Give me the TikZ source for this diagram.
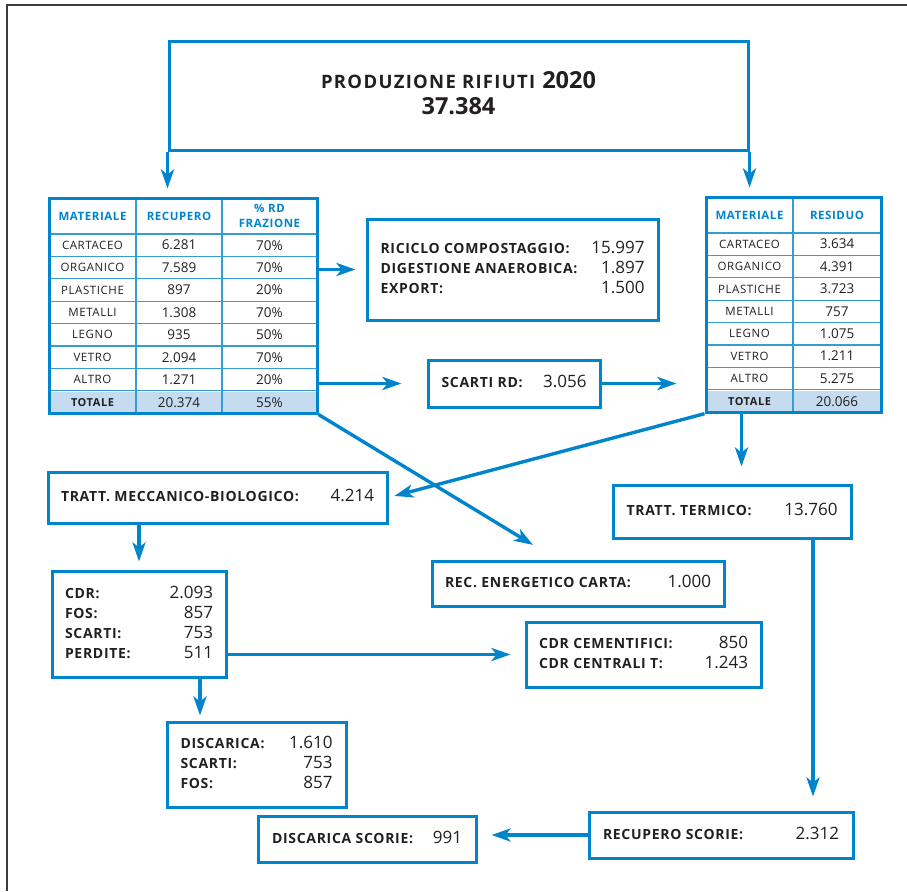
\documentclass[tikz,border=0pt]{standalone}
\usepackage{fontspec}
\setmainfont{Open Sans}
\newfontfamily\spaced[LetterSpace=5]{Open Sans}
\newfontfamily\wide[LetterSpace=7]{Open Sans}
\usetikzlibrary{arrows.meta,calc}
\definecolor{rfblue}{RGB}{0,133,204}
\definecolor{rflight}{RGB}{197,220,240}
\definecolor{rftext}{RGB}{35,31,32}
\definecolor{rfframe}{RGB}{60,60,60}
\newcommand{\lbl}[1]{{\spaced\bfseries #1}}
\newcommand{\val}[1]{{\fontsize{17}{20}\selectfont #1}}
\newcommand{\twocol}[2]{\begin{tabular*}{#1}{@{}l@{\extracolsep{\fill}}r@{}}#2\end{tabular*}}

\begin{document}
\begin{tikzpicture}[x=1pt,y=-1pt,text=rftext,
	box/.style={draw=rfblue,line width=3pt,inner sep=0pt,font=\fontsize{14}{20}\selectfont},
	conn/.style={rfblue,line width=3.4pt,-{Stealth[length=19pt,width=13pt,inset=5pt]}},
	grid/.style={rfblue!80,line width=1.1pt},
	hd/.style={text=rfblue,font=\spaced\bfseries\fontsize{11.5}{15}\selectfont,align=center},
	mat/.style={font=\spaced\fontsize{11.5}{12}\selectfont},
	cell/.style={font=\fontsize{13.5}{14}\selectfont}]
	\useasboundingbox (0,0) rectangle (907,891);
	\draw[rfframe,line width=1.4pt] (7,891) -- (7,5) -- (907,5);

	\node[box,minimum width=579pt,minimum height=108pt]	(prod)	at (458.5,96)
		{\begin{tabular}{c}{\wide\bfseries\fontsize{18.5}{26}\selectfont PRODUZIONE RIFIUTI}\hspace{7pt}{\fontsize{23.5}{26}\selectfont\bfseries 2020}\\[3pt]
		{\fontsize{23.5}{26}\selectfont\bfseries 37.384}\end{tabular}};

	\fill[rflight] (49,391.6) rectangle (317,413);
	\foreach \i in {0,...,7}
		\draw[grid] (49,{234+22.4*\i}) -- (317,{234+22.4*\i});
	\draw[grid] (136,198) -- (136,413) (222,198) -- (222,413);
	\node[box,minimum width=268pt,minimum height=215pt]	(tabL)	at (183,305.5) {};
	\node[hd]	(hL1)	at (92.5,216)	{MATERIALE};
	\node[hd]	(hL2)	at (179,216)	{RECUPERO};
	\node[hd]	(hL3)	at (269.5,216)	{\% RD\\FRAZIONE};
	\foreach \m/\r/\p [count=\i] in {CARTACEO/6.281/70,ORGANICO/7.589/70,PLASTICHE/897/20,
		METALLI/1.308/70,LEGNO/935/50,VETRO/2.094/70,ALTRO/1.271/20}{
		\node[mat]	(mL\i)	at (92.5,{222.8+22.4*\i})	{\m};
		\node[cell]	(rL\i)	at (179,{222.8+22.4*\i})	{\r};
		\node[cell]	(pL\i)	at (269.5,{222.8+22.4*\i})	{\p\%};
	}
	\node[mat,font=\spaced\bfseries\fontsize{11}{12}\selectfont]	(mL8)	at (92.5,402.3)	{TOTALE};
	\node[cell]	(rL8)	at (179,402.3)	{20.374};
	\node[cell]	(pL8)	at (269.5,402.3)	{55\%};

	\fill[rflight] (706,390.6) rectangle (881,412.2);
	\foreach \i in {0,...,7}
		\draw[grid] (706,{233+22.4*\i}) -- (881,{233+22.4*\i});
	\draw[grid] (793,197) -- (793,412.2);
	\node[box,minimum width=175pt,minimum height=215.2pt]	(tabR)	at (793.5,304.6) {};
	\node[hd]	(hR1)	at (749.5,215)	{MATERIALE};
	\node[hd]	(hR2)	at (837,215)	{RESIDUO};
	\foreach \m/\r [count=\i] in {CARTACEO/3.634,ORGANICO/4.391,PLASTICHE/3.723,
		METALLI/757,LEGNO/1.075,VETRO/1.211,ALTRO/5.275}{
		\node[mat]	(mR\i)	at (749.5,{221.8+22.4*\i})	{\m};
		\node[cell]	(rR\i)	at (837,{221.8+22.4*\i})	{\r};
	}
	\node[mat,font=\spaced\bfseries\fontsize{11}{12}\selectfont]	(mR8)	at (749.5,401.4)	{TOTALE};
	\node[cell]	(rR8)	at (837,401.4)	{20.066};

	\node[box,minimum width=291pt,minimum height=101pt]	(ric)	at (512.5,269.5)
		{\twocol{264pt}{\lbl{RICICLO COMPOSTAGGIO:} & \val{15.997}\\ \lbl{DIGESTIONE ANAEROBICA:} & \val{1.897}\\ \lbl{EXPORT:} & \val{1.500}}};
	\node[box,minimum width=172pt,minimum height=47pt]	(scrd)	at (514,383.5)
		{\twocol{145pt}{\lbl{SCARTI RD:} & \val{3.056}}};
	\node[box,minimum width=339pt,minimum height=51pt]	(tmb)	at (217.5,497.5)
		{\twocol{313pt}{\lbl{TRATT. MECCANICO-BIOLOGICO:} & \val{4.214}}};
	\node[box,minimum width=238pt,minimum height=53pt]	(tterm)	at (732,511.5)
		{\twocol{211pt}{\lbl{TRATT. TERMICO:} & \val{13.760}}};
	\node[box,minimum width=292pt,minimum height=45pt]	(recen)	at (578,583.5)
		{\twocol{266pt}{\lbl{REC. ENERGETICO CARTA:} & \val{1.000}}};
	\node[box,minimum width=174pt,minimum height=106pt]	(cdr)	at (139,624)
		{\twocol{148pt}{\lbl{CDR:} & \val{2.093}\\ \lbl{FOS:} & \val{857}\\ \lbl{SCARTI:} & \val{753}\\ \lbl{PERDITE:} & \val{511}}};
	\node[box,minimum width=235pt,minimum height=65pt]	(cdrc)	at (643.5,654.5)
		{\twocol{209pt}{\lbl{CDR CEMENTIFICI:} & \val{850}\\ \lbl{CDR CENTRALI T:} & \val{1.243}}};
	\node[box,minimum width=179pt,minimum height=85pt]	(disc)	at (256.5,764.5)
		{\twocol{152pt}{\lbl{DISCARICA:} & \val{1.610}\\ \lbl{SCARTI:} & \val{753}\\ \lbl{FOS:} & \val{857}}};
	\node[box,minimum width=264pt,minimum height=46pt]	(recsc)	at (721,835)
		{\twocol{236pt}{\lbl{RECUPERO SCORIE:} & \val{2.312}}};
	\node[box,minimum width=218pt,minimum height=46pt]	(discsc)	at (367,839)
		{\twocol{190pt}{\lbl{DISCARICA SCORIE:} & \val{991}}};

	\coordinate (tRs)	at ($(tabR.south)+(-52,0)$);
	\coordinate (ttS)	at ($(tterm.south)+(81,0)$);
	\coordinate (cdrS)	at ($(cdr.south)+(61,0)$);
	\coordinate (recT)	at ($(recen.north)+(-21,0)$);

	\path[conn]
		(prod.south west)	edge [shorten >=8pt]	(prod.south west |- tabL.north)
		(prod.south east)	edge [shorten >=8pt]	(prod.south east |- tabR.north)
		(tabL.east |- ric.west)	edge [shorten >=10pt]	(ric.west)
		(tabL.east |- scrd.west)	edge [shorten >=25pt]	(scrd.west)
		(tabL.south east)	edge [shorten >=28pt]	(recT)
		(scrd.east)	edge [shorten >=28pt]	(tabR.west |- scrd.east)
		(tabR.south west)	edge [shorten >=6pt]	(tmb.east)
		(tRs)	edge [shorten >=17pt]	(tRs |- tterm.north)
		(ttS)	edge [shorten >=14pt]	(ttS |- recsc.north)
		(recsc.west)	edge [shorten >=14pt]	(discsc.east |- recsc.west)
		(tmb.south -| cdr.north)	edge [shorten >=8pt]	(cdr.north)
		(cdr.east |- cdrc.west)	edge [shorten >=14pt]	(cdrc.west)
		(cdrS)	edge [shorten >=5pt]	(cdrS |- disc.north)
		;
\end{tikzpicture}
\end{document}
